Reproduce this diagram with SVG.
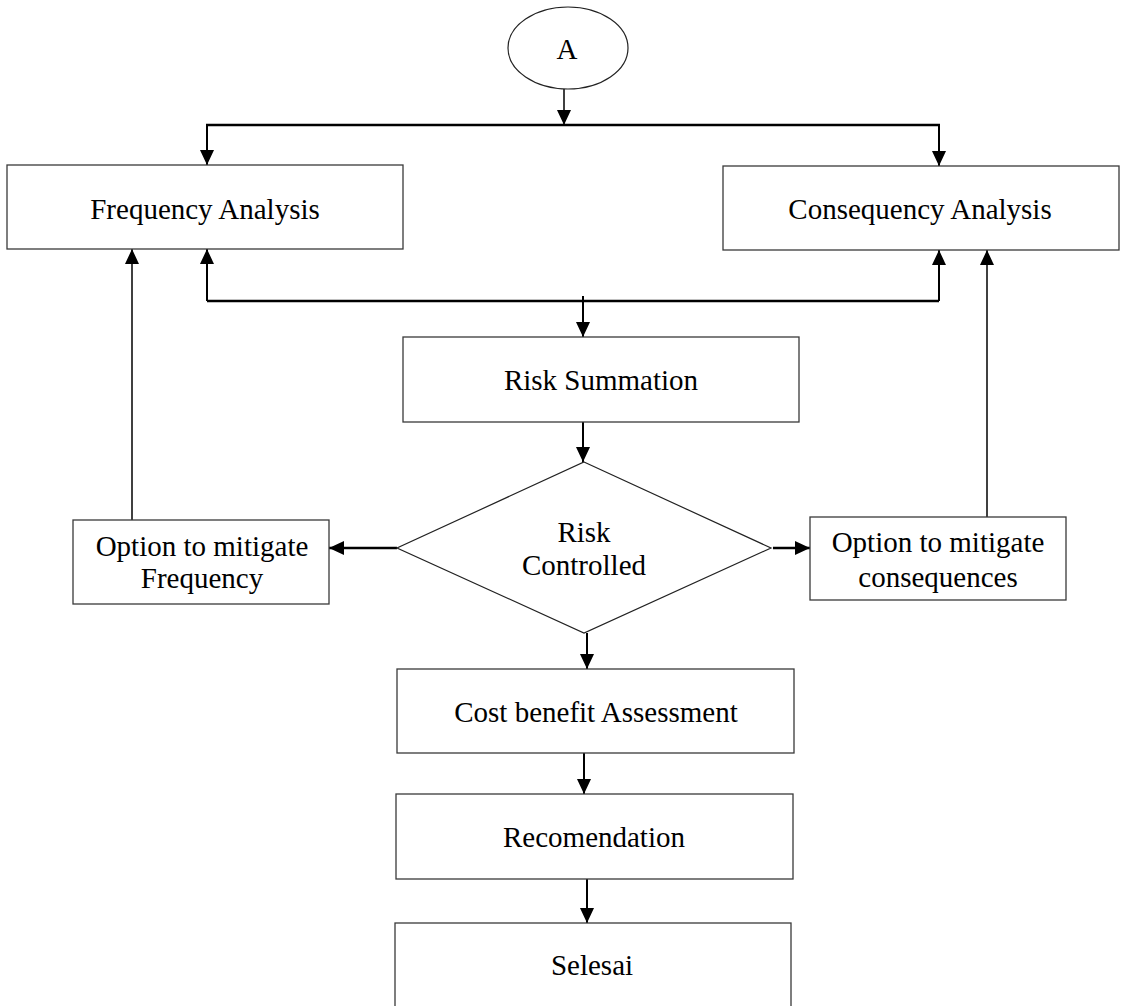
<svg xmlns="http://www.w3.org/2000/svg" width="1122" height="1006" viewBox="0 0 1122 1006">
<style>
.box{fill:#fff;stroke:#3a3a3a;stroke-width:1.3}
.t{font-family:"Liberation Serif","Times New Roman",serif;font-size:29px;fill:#000;text-anchor:middle}
.c{fill:none;stroke:#000;stroke-width:2}
.thick{stroke-width:2.6}
.thin{stroke-width:1.5}
</style>
<defs>
<marker id="ah" viewBox="0 0 15 14" refX="15" refY="7" markerWidth="15" markerHeight="14" markerUnits="userSpaceOnUse" orient="auto">
<path d="M0,0 L15,7 L0,14 z" fill="#000"/>
</marker>
</defs>
<g id="connectors">
<path class="c thin" d="M564,89 V125" marker-end="url(#ah)"/>
<path class="c thick" d="M206,125 H940"/>
<path class="c" d="M207,125 V165" marker-end="url(#ah)"/>
<path class="c" d="M939,125 V166" marker-end="url(#ah)"/>
<path class="c thick" d="M207,301 H939"/>
<path class="c" d="M207,301 V249" marker-end="url(#ah)"/>
<path class="c" d="M939,301 V250" marker-end="url(#ah)"/>
<path class="c" d="M583,296 V337" marker-end="url(#ah)"/>
<path class="c" d="M583,422 V462" marker-end="url(#ah)"/>
<path class="c thin" d="M132,520 V249" marker-end="url(#ah)"/>
<path class="c thin" d="M987,517 V250" marker-end="url(#ah)"/>
<path class="c thick" d="M397,548 H329" marker-end="url(#ah)"/>
<path class="c thick" d="M773,548 H810" marker-end="url(#ah)"/>
<path class="c" d="M587,633 V669" marker-end="url(#ah)"/>
<path class="c" d="M584,753 V794" marker-end="url(#ah)"/>
<path class="c" d="M587,879 V923" marker-end="url(#ah)"/>
</g>
<g id="node-A">
<ellipse cx="568" cy="48" rx="60" ry="41" fill="#fff" stroke="#222" stroke-width="1.2"/>
<text class="t" x="567" y="59">A</text>
</g>
<g id="node-frequency">
<rect class="box" x="7" y="165" width="396" height="84"/>
<text class="t" x="205" y="219">Frequency Analysis</text>
</g>
<g id="node-consequency">
<rect class="box" x="723" y="166" width="396" height="84"/>
<text class="t" x="920" y="219">Consequency Analysis</text>
</g>
<g id="node-risk-summation">
<rect class="box" x="403" y="337" width="396" height="85"/>
<text class="t" x="601" y="390">Risk Summation</text>
</g>
<g id="node-risk-controlled">
<polygon points="584,462 771,548 584,633 397,548" fill="#fff" stroke="#222" stroke-width="1.2"/>
<text class="t" x="584" y="542">Risk</text>
<text class="t" x="584" y="575">Controlled</text>
</g>
<g id="node-option-frequency">
<rect class="box" x="73" y="520" width="256" height="84"/>
<text class="t" x="202" y="556">Option to mitigate</text>
<text class="t" x="202" y="588">Frequency</text>
</g>
<g id="node-option-consequences">
<rect class="box" x="810" y="517" width="256" height="83"/>
<text class="t" x="938" y="552">Option to mitigate</text>
<text class="t" x="938" y="587">consequences</text>
</g>
<g id="node-cost-benefit">
<rect class="box" x="397" y="669" width="397" height="84"/>
<text class="t" x="596" y="722">Cost benefit Assessment</text>
</g>
<g id="node-recomendation">
<rect class="box" x="396" y="794" width="397" height="85"/>
<text class="t" x="594" y="847">Recomendation</text>
</g>
<g id="node-selesai">
<rect class="box" x="395" y="923" width="396" height="100"/>
<text class="t" x="592" y="975">Selesai</text>
</g>
</svg>
